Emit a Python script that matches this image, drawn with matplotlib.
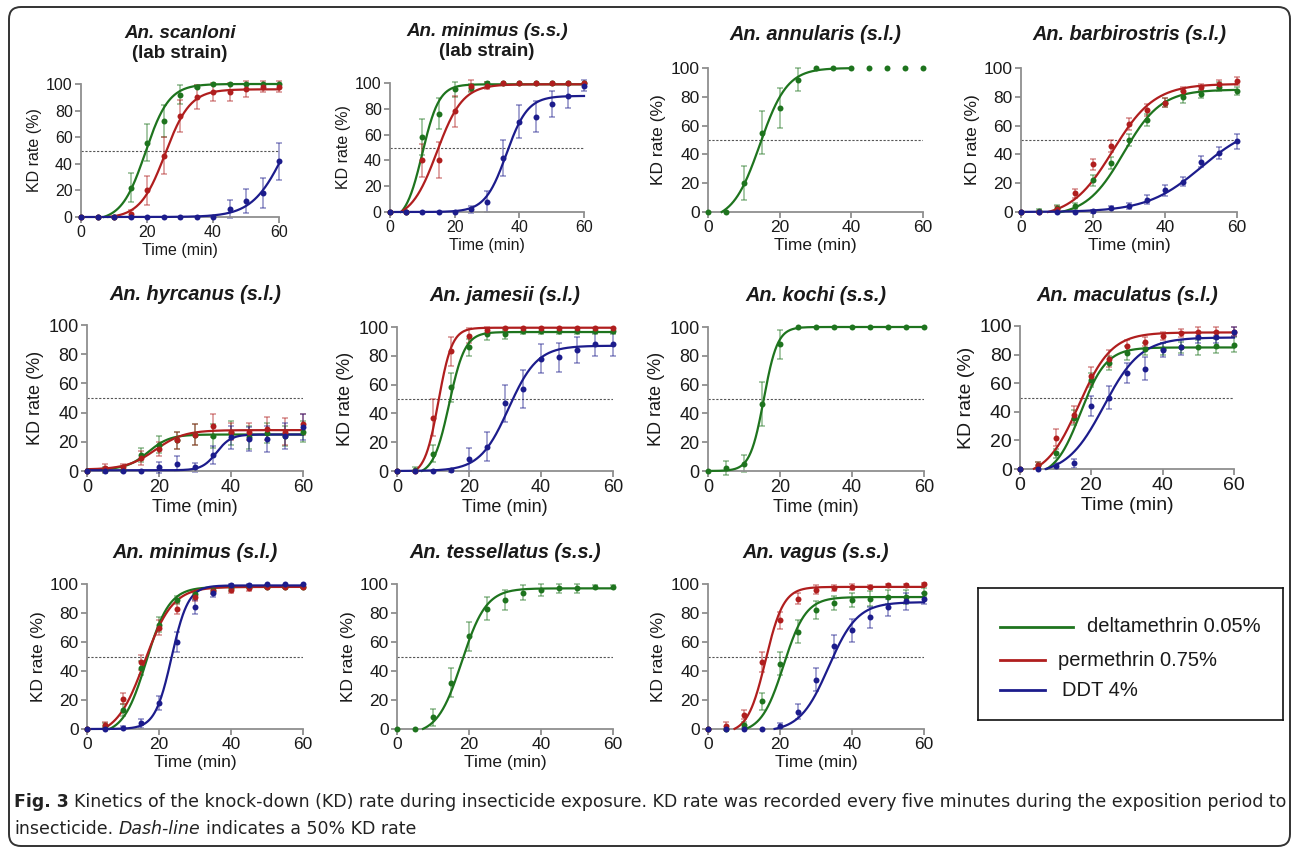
import numpy as np
import matplotlib
matplotlib.use('Agg')
import matplotlib.pyplot as plt
from matplotlib.patches import FancyBboxPatch
from matplotlib import font_manager

W, H = 1293, 848
plt.rcParams['font.family'] = ['Liberation Sans', 'DejaVu Sans']

# sampling times (min)
times = [0, 5, 10, 15, 20, 25, 30, 35, 40, 45, 50, 55, 60]

green = '#1e741e'
red = '#b01e1e'
blue = '#1c1c8c'
insecticides = ['deltamethrin 0.05%', 'permethrin 0.75%', 'DDT 4%']

# ---- data: KD rate (%), error bar half-width, fit (bottom, top, t50, slope) ----
# An. scanloni (lab strain)
sca_g = [0, 0, 0, 22, 56, 72, 92, 98, 100, 100, 100, 100, 100]
sca_g_err = [0, 0, 0, 11, 14, 12, 7, 1, 0, 0, 0, 0, 0]
sca_g_fit = [-3, 100, 19.5, 3.6]
sca_r = [0, 0, 0, 2, 20, 46, 76, 90, 94, 94, 96, 98, 98]
sca_r_err = [0, 0, 0, 3, 11, 14, 12, 9, 7, 7, 6, 4, 4]
sca_r_fit = [-1, 96, 25.5, 3.8]
sca_b = [0, 0, 0, 0, 0, 0, 0, 0, 0, 6, 12, 18, 42]
sca_b_err = [0, 0, 0, 0, 0, 0, 0, 0, 0, 7, 9, 11, 14]
sca_b_fit = [0, 100, 62, 5]

# An. minimus (s.s.) (lab strain)
mss_g = [0, 0, 58, 76, 95, 96, 100, 100, 100, 100, 100, 100, 100]
mss_g_err = [0, 0, 14, 12, 6, 3, 1, 0, 0, 0, 0, 0, 0]
mss_g_fit = [-8, 99, 10, 2.6]
mss_r = [0, 0, 40, 40, 78, 98, 98, 100, 100, 100, 100, 100, 100]
mss_r_err = [0, 0, 13, 14, 12, 4, 3, 0, 0, 0, 0, 0, 0]
mss_r_fit = [-6, 99, 14.5, 4]
mss_b = [0, 0, 0, 0, 0, 2, 8, 42, 70, 74, 84, 90, 98]
mss_b_err = [0, 0, 0, 0, 0, 3, 8, 14, 13, 12, 10, 9, 4]
mss_b_fit = [0, 90, 36, 3.3]

# An. annularis (s.l.)
ann_g = [0, 0, 20, 55, 72, 92, 100, 100, 100, 100, 100, 100, 100]
ann_g_err = [0, 0, 12, 15, 14, 8, 0, 0, 0, 0, 0, 0, 0]
ann_g_fit = [-6, 100, 14.5, 3.8]

# An. barbirostris (s.l.)
bar_g = [0, 1, 3, 4, 22, 34, 50, 64, 76, 80, 82, 87, 84]
bar_g_err = [0, 1, 2, 2, 4, 4, 4, 4, 3, 4, 3, 3, 3]
bar_g_fit = [-3, 85, 28.5, 5.2]
bar_r = [0, 0, 2, 13, 33, 46, 61, 71, 76, 84, 87, 89, 91]
bar_r_err = [0, 1, 2, 3, 4, 4, 4, 4, 3, 3, 2, 3, 3]
bar_r_fit = [-4, 89, 25.5, 5.8]
bar_b = [0, 0, 0, 0, 0.5, 3, 4, 8.5, 15, 21, 35, 41, 49]
bar_b_err = [0, 0, 0, 0, 1, 1, 2, 3, 4, 3, 4, 4, 5]
bar_b_fit = [0, 62, 50, 7.5]

# An. hyrcanus (s.l.)
hyr_g = [0, 0.5, 1, 11, 18, 21, 25, 24, 26, 23, 26, 24, 27]
hyr_g_err = [0, 2, 2, 5, 6, 6, 7, 8, 8, 8, 7, 7, 7]
hyr_g_fit = [1, 25, 17, 3]
hyr_r = [0, 2, 3, 9, 15, 21, 25, 31, 27, 27, 29, 27, 32]
hyr_r_err = [0, 3, 2, 5, 5, 6, 7, 8, 6, 6, 8, 9, 7]
hyr_r_fit = [1, 28, 19, 4]
hyr_b = [0, 0, 0, 0, 2.5, 5, 2.5, 11, 23, 22, 22, 24, 30]
hyr_b_err = [0, 0, 0, 0, 4, 5, 3, 6, 8, 8, 9, 9, 9]
hyr_b_fit = [0.5, 25, 36, 2]

# An. jamesii (s.l.)
jam_g = [0, 1, 12, 58, 86, 95, 95, 97, 97, 97, 97, 97, 97]
jam_g_err = [0, 2, 6, 10, 6, 4, 3, 2, 2, 2, 2, 2, 2]
jam_g_fit = [-3, 96.5, 14.5, 2.2]
jam_r = [0, 0, 37, 83, 94, 98, 99.5, 99.5, 99.5, 99.5, 99.5, 99.5, 99.5]
jam_r_err = [0, 0, 13, 10, 5, 2, 0, 0, 0, 0, 0, 0, 0]
jam_r_fit = [-3, 99.5, 11.5, 1.9]
jam_b = [0, 0, 0, 0.5, 8, 17, 47, 57, 78, 79, 84, 88, 88]
jam_b_err = [0, 0, 0, 1, 8, 10, 13, 13, 10, 10, 9, 8, 8]
jam_b_fit = [0, 87, 31, 4]

# An. kochi (s.s.)
koc_g = [0, 2, 5, 46.5, 88, 100, 100, 100, 100, 100, 100, 100, 100]
koc_g_err = [0, 5, 6, 15, 10, 0, 0, 0, 0, 0, 0, 0, 0]
koc_g_fit = [0, 100, 15.5, 1.9]

# An. maculatus (s.l.)
mac_g = [0, 3, 11, 36, 62, 74, 81, 84, 84, 85, 85, 86, 87]
mac_g_err = [0, 2, 3, 5, 5, 5, 5, 4, 4, 4, 5, 5, 5]
mac_g_fit = [-6, 85, 17, 3.6]
mac_r = [0, 3, 22, 38, 65, 77, 86, 89, 93, 95, 96, 96, 96]
mac_r_err = [0, 2, 6, 6, 6, 6, 4, 3, 3, 3, 3, 3, 3]
mac_r_fit = [-6, 95.5, 16.5, 4.6]
mac_b = [0, 0, 2, 4, 44, 50, 67, 70, 83, 85, 92, 92, 96]
mac_b_err = [0, 0, 2, 3, 7, 8, 7, 8, 5, 5, 4, 4, 3]
mac_b_fit = [-4, 92, 23.5, 5.2]

# An. minimus (s.l.)
msl_g = [0, 2, 13, 42, 72, 89, 93, 96, 97, 98, 98, 98, 98]
msl_g_err = [0, 2, 4, 5, 5, 3, 3, 2, 2, 1, 1, 1, 1]
msl_g_fit = [-4, 98, 16.5, 3.2]
msl_r = [0, 3, 21, 46, 70, 83, 91, 95, 96, 97, 98, 98, 98]
msl_r_err = [0, 2, 4, 5, 5, 4, 3, 2, 2, 2, 1, 1, 1]
msl_r_fit = [-5, 98, 16, 3.9]
msl_b = [0, 0, 1, 4, 18, 60, 84, 94, 99, 99, 100, 100, 100]
msl_b_err = [0, 0, 1, 3, 5, 7, 5, 3, 1, 1, 0, 0, 0]
msl_b_fit = [0, 99, 23.5, 2.3]

# An. tessellatus (s.s.)
tes_g = [0, 0, 8, 32, 64, 83, 89, 94, 96, 97, 97, 98, 98]
tes_g_err = [0, 0, 6, 10, 10, 8, 7, 5, 4, 3, 3, 1, 1]
tes_g_fit = [-4, 97, 18, 3.4]

# An. vagus (s.s.)
vag_g = [0, 0, 3, 19, 45, 67, 82, 87, 89, 90, 91, 91, 94]
vag_g_err = [0, 0, 2, 6, 8, 8, 6, 5, 5, 5, 5, 5, 3]
vag_g_fit = [-3, 91, 21, 3.1]
vag_r = [0, 2, 10, 46, 75, 90, 96, 97, 98, 98, 99, 99, 100]
vag_r_err = [0, 3, 3, 7, 6, 4, 3, 2, 2, 1, 1, 1, 1]
vag_r_fit = [-3, 98, 16, 2.5]
vag_b = [0, 0, 0, 0, 2, 12, 34, 57, 68, 77, 84, 88, 90]
vag_b_err = [0, 0, 0, 0, 2, 5, 8, 8, 8, 7, 6, 6, 4]
vag_b_fit = [-2, 87.5, 33.5, 4]

# (title lines, series, end of fitted curve)
panels = [
    (['An. scanloni', '(lab strain)'],
     [(green, sca_g, sca_g_err, sca_g_fit), (red, sca_r, sca_r_err, sca_r_fit),
      (blue, sca_b, sca_b_err, sca_b_fit)], 60),
    (['An. minimus (s.s.)', '(lab strain)'],
     [(green, mss_g, mss_g_err, mss_g_fit), (red, mss_r, mss_r_err, mss_r_fit),
      (blue, mss_b, mss_b_err, mss_b_fit)], 60),
    (['An. annularis (s.l.)'], [(green, ann_g, ann_g_err, ann_g_fit)], 40),
    (['An. barbirostris (s.l.)'],
     [(green, bar_g, bar_g_err, bar_g_fit), (red, bar_r, bar_r_err, bar_r_fit),
      (blue, bar_b, bar_b_err, bar_b_fit)], 60),
    (['An. hyrcanus (s.l.)'],
     [(green, hyr_g, hyr_g_err, hyr_g_fit), (red, hyr_r, hyr_r_err, hyr_r_fit),
      (blue, hyr_b, hyr_b_err, hyr_b_fit)], 60),
    (['An. jamesii (s.l.)'],
     [(green, jam_g, jam_g_err, jam_g_fit), (red, jam_r, jam_r_err, jam_r_fit),
      (blue, jam_b, jam_b_err, jam_b_fit)], 60),
    (['An. kochi (s.s.)'], [(green, koc_g, koc_g_err, koc_g_fit)], 60),
    (['An. maculatus (s.l.)'],
     [(green, mac_g, mac_g_err, mac_g_fit), (red, mac_r, mac_r_err, mac_r_fit),
      (blue, mac_b, mac_b_err, mac_b_fit)], 60),
    (['An. minimus (s.l.)'],
     [(green, msl_g, msl_g_err, msl_g_fit), (red, msl_r, msl_r_err, msl_r_fit),
      (blue, msl_b, msl_b_err, msl_b_fit)], 60),
    (['An. tessellatus (s.s.)'], [(green, tes_g, tes_g_err, tes_g_fit)], 60),
    (['An. vagus (s.s.)'],
     [(green, vag_g, vag_g_err, vag_g_fit), (red, vag_r, vag_r_err, vag_r_fit),
      (blue, vag_b, vag_b_err, vag_b_fit)], 60),
]

# pixel layout: x of t=0, x of t=60, y of 100%, y of 0%, title y, font size, title size
layout = [
    (81, 279, 84, 217, 33, 11.5, 13.5),
    (390, 584, 83, 212, 32, 11.5, 13.5),
    (708, 923, 68, 212, 35, 12.5, 14.3),
    (1021, 1237, 68, 212, 34, 12.5, 14.3),
    (87, 303, 325, 471, 294, 13, 14.3),
    (397, 613, 327, 471, 295, 13, 14.3),
    (708, 924, 327, 471, 295, 13, 14.3),
    (1020, 1234, 326, 469, 295, 14, 14.3),
    (87, 303, 584, 729, 552, 12.5, 14.3),
    (397, 613, 584, 729, 552, 12.5, 14.3),
    (708, 924, 584, 729, 552, 12.5, 14.3),
]


def logistic(t, bottom, top, t50, slope):
    return bottom + (top - bottom) / (1 + np.exp((t50 - t) / slope))


fig = plt.figure(figsize=(W / 100, H / 100), dpi=100)
axcol = '#8f8f8f'
txtcol = '#1a1a1a'

for (title, series, tend), (x0, x1, y1, y0, ty, fs, tfs) in zip(panels, layout):
    ax = fig.add_axes([x0 / W, 1 - y0 / H, (x1 - x0) / W, (y0 - y1) / H])
    ax.set_xlim(0, 60)
    ax.set_ylim(0, 100)
    ax.axhline(50, color='#555555', lw=0.8, ls=(0, (2, 1.5)), zorder=1)
    for col, vals, errs, fit in series:
        t = np.array(times, dtype=float)
        v = np.array(vals, dtype=float)
        e = np.array(errs, dtype=float)
        m = e > 0
        ax.errorbar(t[m], v[m], yerr=e[m], fmt='none', ecolor=col, alpha=0.5,
                    elinewidth=1.1, capsize=2.5, capthick=1.1, clip_on=False, zorder=2)
        tc = np.linspace(0, tend, 400)
        yc = logistic(tc, *fit)
        yc[yc < 0] = np.nan
        ax.plot(tc, yc, color=col, lw=1.6, clip_on=False, zorder=3)
        ax.plot(t, v, 'o', color=col, ms=4.3, mew=0, clip_on=False, zorder=4)
    for side in ['top', 'right']:
        ax.spines[side].set_visible(False)
    for side in ['left', 'bottom']:
        ax.spines[side].set_color(axcol)
        ax.spines[side].set_linewidth(1.3)
    ax.set_xticks([0, 20, 40, 60])
    ax.set_yticks([0, 20, 40, 60, 80, 100])
    ax.tick_params(direction='out', length=4, width=1.3, color=axcol,
                   labelcolor=txtcol, labelsize=fs, pad=2)
    ax.set_xlabel('Time (min)', fontsize=fs, color=txtcol, labelpad=2)
    ax.set_ylabel('KD rate (%)', fontsize=fs, color=txtcol, labelpad=3)
    xc = (x0 + x1) / 2 / W
    fig.text(xc, 1 - ty / H, title[0], ha='center', va='center', fontsize=tfs,
             fontweight='bold', fontstyle='italic', color=txtcol)
    if len(title) > 1:
        fig.text(xc, 1 - (ty + 20) / H, title[1], ha='center', va='center',
                 fontsize=tfs, fontweight='bold', color=txtcol)

# legend box
lax = fig.add_axes([978 / W, 1 - 720 / H, 305 / W, 132 / H])
lax.set_xlim(0, 305)
lax.set_ylim(132, 0)
lax.set_xticks([])
lax.set_yticks([])
for s in lax.spines.values():
    s.set_linewidth(1.2)
    s.set_color('#111111')
leg_rows = [(green, 95, 109, 39), (red, 67, 80, 72), (blue, 67, 84, 102)]
for (col, lend, tx, ly), lab in zip(leg_rows, insecticides):
    lax.plot([22, lend], [ly, ly], color=col, lw=2)
    lax.text(tx, ly, lab, ha='left', va='center', fontsize=14.5, color=txtcol)

# outer frame
r = 12
frame = FancyBboxPatch((9 + r, 2 + r), 1281 - 2 * r, 839 - 2 * r,
                       boxstyle=f'round,pad={r}', transform=None,
                       fill=False, edgecolor='#333333', lw=1.4)
fig.patches.append(frame)

# caption
try:
    font_manager.findfont('Liberation Sans Narrow', fallback_to_default=False)
    capfam = ['Liberation Sans Narrow', 'DejaVu Sans']
except Exception:
    capfam = ['DejaVu Sans']

renderer = fig.canvas.get_renderer()


def text_width(s, **kw):
    t = fig.text(0, 0, s, **kw)
    w = t.get_window_extent(renderer).width
    t.remove()
    return w


def write_line(y, parts, fs):
    x = 14
    gap = text_width('x x', fontsize=fs, family=capfam) - text_width('xx', fontsize=fs, family=capfam)
    for s, weight, style in parts:
        kw = dict(fontsize=fs, family=capfam, fontweight=weight, fontstyle=style)
        fig.text(x / W, 1 - y / H, s, va='center', ha='left', color='#222222', **kw)
        x += text_width(s, **kw) + gap


line1 = [('Fig. 3', 'bold', 'normal'),
         ('Kinetics of the knock-down (KD) rate during insecticide exposure. KD rate was '
          'recorded every five minutes during the exposition period to', 'normal', 'normal')]
line2 = [('insecticide.', 'normal', 'normal'), ('Dash-line', 'normal', 'italic'),
         ('indicates a 50% KD rate', 'normal', 'normal')]

base = 12
w1 = sum(text_width(s, fontsize=base, family=capfam, fontweight=wt) for s, wt, st in line1)
w1 += text_width('x x', fontsize=base, family=capfam) - text_width('xx', fontsize=base, family=capfam)
capfs = base * (1264 / w1)
write_line(802, line1, capfs)
write_line(829, line2, capfs)

fig.savefig('out.png', dpi=100)
